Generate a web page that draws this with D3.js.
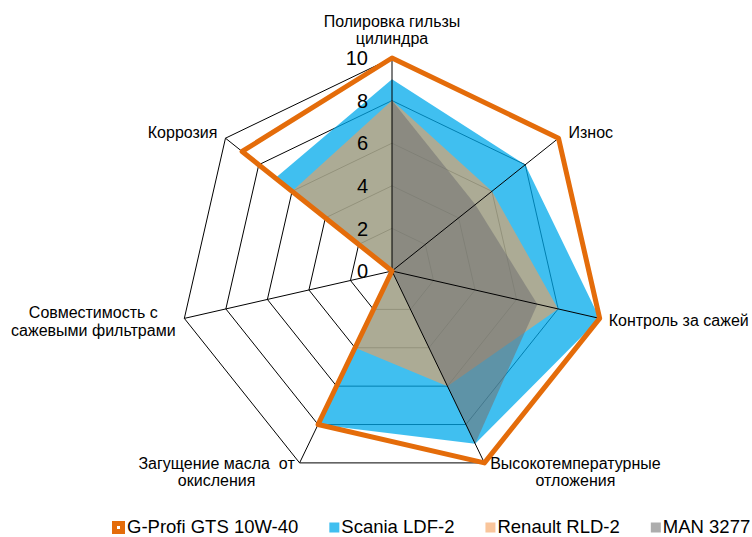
<!DOCTYPE html>
<html>
<head>
<meta charset="utf-8">
<script src="https://cdn.jsdelivr.net/npm/d3@7"></script>
<style>
	body { margin:0; background:#fff; }
	text { font-family:"Liberation Sans", Arial, sans-serif; fill:#000; }
</style>
</head>
<body>
<script>
// ------------------------------------------------------------------
// DATA
// ------------------------------------------------------------------
var axisLabels = [
		["Полировка гильзы", "цилиндра"],
		["Износ"],
		["Контроль за сажей"],
		["Высокотемпературные", "отложения"],
		["Загущение масла  от", "окисления"],
		["Совместимость с", "сажевыми фильтрами"],
		["Коррозия"]
	]
  , seriesNames = ["G-Profi GTS 10W-40", "Scania LDF-2", "Renault RLD-2", "MAN 3277"]
  , gprofi  = [10, 10, 10, 10, 8, 0, 9]
  , scania  = [9, 8, 10, 9, 8, 0, 7]
  , renault = [8, 6, 8, 6, 4, 0, 6]
  , man     = [8, 5, 7, 9, 0, 0, 0]
  , tickValues = [0, 2, 4, 6, 8, 10]

// ------------------------------------------------------------------
// SETUP
// ------------------------------------------------------------------
var W = 752, H = 537
  , cx = 392, cy = 271, R = 213
  , n = axisLabels.length

var svg = d3.select("body").append("svg")
			.attr("width", W)
			.attr("height", H)

var r     = d3.scaleLinear().domain([0, 10]).range([0, R])
  , angle = d3.scaleLinear().domain([0, n]).range([0, 2 * Math.PI])

var radial = d3.lineRadial()
			.angle(function (d, i) { return angle(i) })
			.radius(function (d) { return r(d) })
			.curve(d3.curveLinearClosed)

var pt = function (i, v) {
	var a = angle(i)
	return [cx + r(v) * Math.sin(a), cy - r(v) * Math.cos(a)]
}

var chart = svg.append("g").attr("transform", "translate(" + cx + "," + cy + ")")

// grid rings (under the fills)
chart.selectAll("path.ring")
	.data(tickValues.filter(function (t) { return t > 0 }))
	.enter().append("path")
	.attr("class", "ring")
	.attr("d", function (t) { return radial(d3.range(n).map(function () { return t })) })
	.attr("fill", "none")
	.attr("stroke", "#000")
	.attr("stroke-width", 1)

// filled series
var fills = [
	{ values: scania,  color: "rgb(0,170,235)",   opacity: 0.75 },
	{ values: renault, color: "rgb(245,158,88)",  opacity: 0.6 },
	{ values: man,     color: "rgb(116,116,116)", opacity: 0.59 }
]
chart.selectAll("path.area")
	.data(fills)
	.enter().append("path")
	.attr("class", "area")
	.attr("d", function (s) { return radial(s.values) })
	.attr("fill", function (s) { return s.color })
	.attr("fill-opacity", function (s) { return s.opacity })

// spokes
chart.selectAll("line.spoke")
	.data(d3.range(n))
	.enter().append("line")
	.attr("class", "spoke")
	.attr("x1", 0).attr("y1", 0)
	.attr("x2", function (i) { return pt(i, 10)[0] - cx })
	.attr("y2", function (i) { return pt(i, 10)[1] - cy })
	.attr("stroke", "#000")
	.attr("stroke-width", 1)

// G-Profi outline
chart.append("path")
	.attr("d", radial(gprofi))
	.attr("fill", "none")
	.attr("stroke", "#E46C0A")
	.attr("stroke-width", 5)
	.attr("stroke-linejoin", "round")

// value ticks
svg.selectAll("text.tick")
	.data(tickValues)
	.enter().append("text")
	.attr("class", "tick")
	.attr("x", cx - 24)
	.attr("y", function (t) { return cy - r(t) })
	.attr("dy", "0.36em")
	.attr("text-anchor", "end")
	.style("font-size", "20px")
	.text(function (t) { return t })

// category labels: [anchor, dx, dy of first baseline] from the outer vertex
var labelPos = [
	["middle",   0, -31.5],
	["start",   10,  0],
	["start",    9,  8],
	["middle",  91,  6],
	["middle", -83,  6],
	["middle", -91,  0],
	["end",     -8,  0]
]
axisLabels.forEach(function (lines, i) {
	var p = pt(i, 10), lp = labelPos[i]
	var t = svg.append("text")
		.attr("text-anchor", lp[0])
		.style("font-size", "16px")
		.style("white-space", "pre")
	lines.forEach(function (s, k) {
		t.append("tspan")
			.attr("x", p[0] + lp[1])
			.attr("y", p[1] + lp[2] + k * 17.5)
			.text(s)
	})
})

// legend
var legendKeys = [
	{ color: "#E46C0A", opacity: 1, size: 13, outline: true },
	{ color: fills[0].color, opacity: fills[0].opacity, size: 10 },
	{ color: fills[1].color, opacity: fills[1].opacity, size: 10 },
	{ color: fills[2].color, opacity: fills[2].opacity, size: 10 }
]
var lx = 112, ly = 533
seriesNames.forEach(function (name, i) {
	var k = legendKeys[i]
	svg.append("rect")
		.attr("x", lx).attr("y", ly - 5.5 - k.size / 2)
		.attr("width", k.size).attr("height", k.size)
		.attr("fill", k.color).attr("fill-opacity", k.opacity)
	if (k.outline)
		svg.append("rect")
			.attr("x", lx + k.size / 2 - 1.5).attr("y", ly - 5.5 - 1.5)
			.attr("width", 3).attr("height", 3)
			.attr("fill", "#fff")
	var t = svg.append("text")
		.attr("x", lx + k.size + 2)
		.attr("y", ly)
		.style("font-size", "18.5px")
		.text(name)
	lx += k.size + 2 + t.node().getComputedTextLength() + 31
})
</script>
</body>
</html>
